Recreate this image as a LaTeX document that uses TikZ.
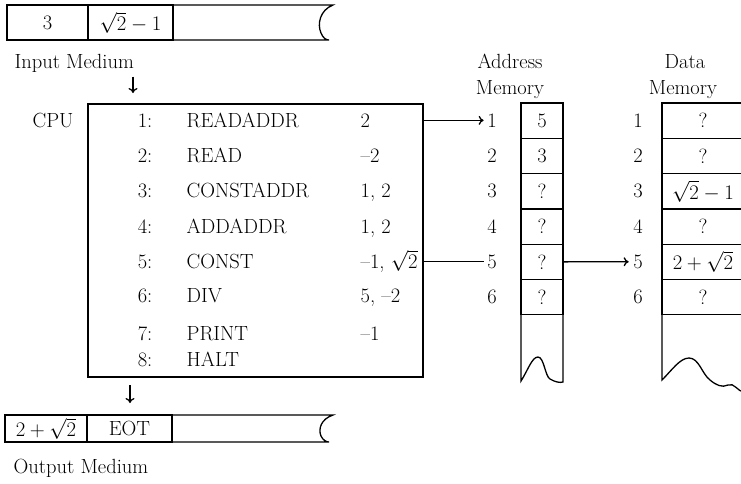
\documentclass[tikz,border=0pt]{standalone}
\usepackage{amsmath,amssymb}
\usetikzlibrary{positioning,arrows.meta}

\begin{document}
\begin{tikzpicture}[
  x=1pt,y=-1pt,
  line width=1.3pt,
  every node/.style={font=\fontsize{20.5}{24}\selectfont,inner sep=0pt},
  cell/.style={draw,outer sep=0pt,minimum height=35.3pt},
  lbl/.style={anchor=base},
  arrow/.style={-{To[length=5pt,width=9pt]}}
]
\useasboundingbox (0,0) rectangle (741,483);

% input medium
\node[cell,minimum width=81pt,minimum height=35pt] (in1) at (47.5,22.5) {3};
\node[cell,minimum width=85pt,minimum height=35pt,right=0pt of in1] (in2)
  {\raisebox{-2pt}{$\sqrt{2}-1$}};
\draw (in2.north east) -- (333,5)
  .. controls (320,10) and (317,24) .. (321,33)
  .. controls (323,38) and (326,40) .. (329,40) -- (in2.south east);
\node[anchor=base west] (inlbl) at (14,68) {Input Medium};

% cpu
\node[draw,outer sep=0pt,minimum width=335pt,minimum height=273pt,
  anchor=north west] (cpu) at (88,104) {};
\node[anchor=base west] (cpulbl) at (32,127.5) {CPU};
\foreach \n/\op/\arg/\y in {1/READADDR/2/127.5, 2/READ/--2/162.5,
    3/CONSTADDR/{1, 2}/197.5, 4/ADDADDR/{1, 2}/233.5,
    5/CONST/{--1, $\sqrt{2}$}/268.5, 6/DIV/{5, --2}/302,
    7/PRINT/--1/340.5, 8/HALT//366}{
  \node[anchor=base east] (num\n) at (153,\y) {\n:};
  \node[anchor=base west] (op\n) at (186,\y) {\op};
  \node[anchor=base west] (arg\n) at (360,\y) {\arg};
}

% address memory
\node[lbl] (atitle) at (510,68) {Address};
\node[lbl] (amem) at (510,94) {Memory};
\foreach \v [count=\i] in {5,3,?,?,?,?}{
  \node[cell,minimum width=42pt] (acell\i) at (542,{103+35.3*(\i-0.5)}) {\v};
  \node[lbl] (anum\i) at (492,{103+35.3*(\i-0.5)+6.5}) {\i};
}
\draw (acell6.south west) -- (521,381)
  .. controls (528,370) and (532,357) .. (538,357)
  .. controls (544,357) and (545,376) .. (550,379)
  .. controls (555,382) and (560,383) .. (563,382) -- (acell6.south east);

% data memory
\node[lbl] (dtitle) at (685,68) {Data};
\node[lbl] (dmem) at (683,94) {Memory};
\foreach \v [count=\i] in {?,?,$\sqrt{2}-1$,?,$2+\sqrt{2}$,?}{
  \node[cell,minimum width=82pt] (dcell\i) at (703,{103+35.3*(\i-0.5)}) {\v};
  \node[lbl] (dnum\i) at (638,{103+35.3*(\i-0.5)+6.5}) {\i};
}
\draw (dcell6.south west) -- (662,380)
  .. controls (672,370) and (680,358) .. (689,358)
  .. controls (699,358) and (702,374) .. (710,380)
  .. controls (716,385) and (722,388) .. (728,385)
  .. controls (734,382) and (738,392) .. (744,392) -- (dcell6.south east);

% connections
\coordinate (inarr) at (133,0);
\coordinate (outarr) at (130,0);
\draw[arrow] ([yshift=-4pt]inlbl.south -| inarr) -- ([yshift=11pt]cpu.north -| inarr);
\draw[arrow] (cpu.east |- anum1) -- ([xshift=-3pt]anum1.west);
\draw (cpu.east |- anum5) -- ([xshift=-3pt]anum5.west);
\draw[arrow] (acell5.east) -- ([xshift=-4pt]dnum5.west);

% output medium
\node[cell,minimum width=82pt,minimum height=27pt] (out1) at (46,428.5) {$2+\sqrt{2}$};
\node[cell,minimum width=85pt,minimum height=27pt,right=0pt of out1] (out2) {EOT};
\draw (out2.north east) -- (333,415)
  .. controls (321,419) and (318,429) .. (321,436)
  .. controls (323,440) and (326,442) .. (329,442) -- (out2.south east);
\node[anchor=base west] (outlbl) at (13,473) {Output Medium};
\draw[arrow] ([yshift=-8pt]cpu.south -| outarr) -- ([yshift=12pt]out2.north -| outarr);
\end{tikzpicture}
\end{document}
